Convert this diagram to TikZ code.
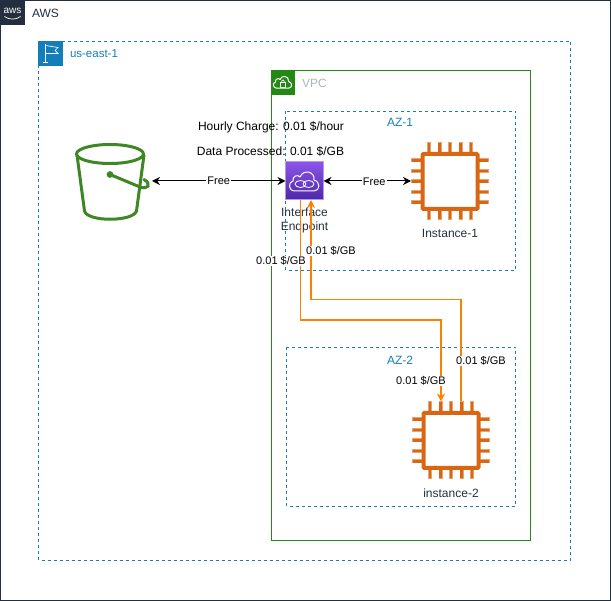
\documentclass[tikz,border=0pt]{standalone}
\usepackage{fontspec}
\setmainfont{Liberation Sans}
\usetikzlibrary{arrows.meta}
\definecolor{awsdark}{HTML}{232F3E}
\definecolor{regionblue}{HTML}{147EBA}
\definecolor{vpcgreen}{HTML}{248814}
\definecolor{vpcgrey}{HTML}{AAB7B8}
\definecolor{bucketgreen}{HTML}{3F8624}
\definecolor{chiporange}{HTML}{D86613}
\definecolor{linkorange}{HTML}{FF8000}
\definecolor{endtop}{HTML}{8C55EA}
\definecolor{endbottom}{HTML}{4D27A8}
\definecolor{endrim}{HTML}{B49AE8}

\begin{document}
\begin{tikzpicture}[x=1pt,y=-1pt,line width=1pt]
		\tikzstyle{every node}+=[inner sep=0pt,outer sep=0pt]
		\tikzstyle{txt}=[font=\fontsize{12}{14}\selectfont]
		\tikzstyle{small}=[font=\fontsize{11}{13}\selectfont,fill=white,inner sep=1pt]
		\tikzstyle{azbox}=[regionblue,dashed,dash pattern=on 3pt off 3pt]
		\tikzstyle{bothway}=[black,{Stealth[length=8pt,width=8pt]}-{Stealth[length=8pt,width=8pt]}]
		\tikzstyle{orangelink}=[linkorange,line width=1.15pt]
		\tikzset{
			chip/.pic={
				\foreach \d in {-21,-10.5,0,10.5,21} {
					\draw [chiporange!60!white,line width=4pt] (\d,-39) -- (\d,-29);
					\draw [chiporange!60!white,line width=4pt] (\d,39) -- (\d,29);
					\draw [chiporange!60!white,line width=4pt] (-39,\d) -- (-29,\d);
					\draw [chiporange!60!white,line width=4pt] (39,\d) -- (29,\d);
					\draw [chiporange,line width=2.8pt] (\d,-38) -- (\d,-29);
					\draw [chiporange,line width=2.8pt] (\d,38) -- (\d,29);
					\draw [chiporange,line width=2.8pt] (-38,\d) -- (-29,\d);
					\draw [chiporange,line width=2.8pt] (38,\d) -- (29,\d);
				}
				\draw [chiporange,line width=4pt,fill=white,rounded corners=1pt] (-27.5,-27.5) rectangle (27.5,27.5);
			},
			cloud/.pic={
				\draw [white,line width=1pt,line join=round] (-10,10) .. controls (-17,10) and (-17,1) .. (-12,0)
					.. controls (-13,-5) and (-7,-7) .. (-5,-4)
					.. controls (-2,-12) and (10,-10) .. (9,-1)
					.. controls (16,1) and (15,10) .. (9,10) -- cycle;
			}
		}
		\useasboundingbox (0,0) rectangle (611,601);
		% outer boxes
		\draw [awsdark] (0.5,0.5) rectangle (610.5,600.5);
		\fill [awsdark] (0,0) rectangle (25,25);
		\node (awslogo) [white,font=\fontsize{10}{10}\selectfont] at (12.5,10.5) {aws};
		\draw [white,line width=0.7pt] (4.5,16.5) .. controls (9,20) and (16,20) .. (20.5,16.5);
		\node (awslabel) [txt,awsdark,anchor=west] at (32,13) {AWS};
		\draw [azbox] (38.5,41.5) rectangle (570.5,560.5);
		\fill [regionblue] (38,41) rectangle (63,66);
		\draw [white,line width=0.7pt] (45.5,44) -- (45.5,62) (43,62) -- (48,62);
		\draw [white,line width=0.7pt] (45.5,45.5) -- (58,47.5) -- (55,50.5) -- (58,53.5) -- (45.5,53.5);
		\node (regionlabel) [regionblue,anchor=west,font=\fontsize{11.5}{14}\selectfont] at (70,54) {us-east-1};
		\draw [vpcgreen] (271,70.5) rectangle (530.5,541);
		\fill [vpcgreen] (271,70) rectangle (295,95);
		\pic [scale=0.62] at (283,82) {cloud};
		\draw [white,line width=0.7pt] (280.5,82.5) rectangle (285.5,87);
		\draw [white,line width=0.7pt] (281.5,82.5) arc (180:360:1.5 and 2.5);
		\node (vpclabel) [txt,vpcgrey,anchor=west] at (302,83) {VPC};
		\draw [azbox] (285.5,111.5) rectangle (515.5,270.5);
		\node (azonelabel) [txt,regionblue] at (400,122) {AZ-1};
		\draw [azbox] (286.5,347.5) rectangle (515.5,506.5);
		\node (aztwolabel) [txt,regionblue] at (400,360) {AZ-2};
		% bucket
		\node (bucket) [minimum width=78pt,minimum height=74pt] at (113,181) {};
		\draw [bucketgreen,line width=3pt,line join=round] (110,154) ellipse (33.5 and 9.5);
		\draw [bucketgreen,line width=3pt,line join=round] (77,155) -- (84.5,211) .. controls (87,222) and (133,222) .. (136.5,211) -- (144,155);
		\fill [bucketgreen] (110,174.5) circle (3.4);
		\draw [bucketgreen,line width=3pt,line cap=round] (110,174.5) -- (140,187) .. controls (148,190) and (152,184) .. (144,179.5);
		% endpoint
		\node (endpoint) [draw=endrim,top color=endtop,bottom color=endbottom,minimum size=38pt] at (304.5,181) {};
		\pic at (305,181) {cloud};
		\draw [white,line width=0.8pt] (300.5,184) ellipse (5.5 and 3.5);
		\draw [white,line width=0.8pt] (308.5,184) ellipse (5.5 and 3.5);
		\node (endpointlabel) [txt,awsdark,align=center,anchor=north] at (304.5,207.5) {Interface\\Endpoint};
		% instances
		\node (inst1) [minimum size=78pt] at (450,181) {};
		\pic at (450,181.5) {chip};
		\node (inst1label) [txt,awsdark] at (450,233) {Instance-1};
		\node (inst2) [minimum size=78pt] at (451,440.5) {};
		\pic at (451,440.5) {chip};
		\node (inst2label) [txt,awsdark] at (451,493) {instance-2};
		% connectors
		\draw [bothway] (bucket) -- node [small,pos=0.5] {Free} (endpoint);
		\draw [bothway] (endpoint) -- node [small,pos=0.58,yshift=-1pt] {Free} (inst1);
		\draw [orangelink,-{Stealth[length=8pt,width=8pt]}] ([xshift=-4pt]endpoint.south) -- ++(0,120) -| ([xshift=-10pt]inst2.north);
		\draw [orangelink,-{Stealth[length=8pt,width=8pt]}] ([xshift=10pt]inst2.north) -- ++(0,-102) -| ([xshift=6.5pt]endpoint.south);
		% charges
		\node (hourly) [txt] at (271,127) {Hourly Charge: 0.01 \$/hour};
		\node (processed) [txt] at (270.5,151) {Data Processed: 0.01 \$/GB};
		\node (chargea) [small] at (281,261) {0.01 \$/GB};
		\node (chargeb) [small] at (331,251) {0.01 \$/GB};
		\node (chargec) [small] at (481,361) {0.01 \$/GB};
		\node (charged) [small] at (421,381) {0.01 \$/GB};
		\end{tikzpicture}
\end{document}
